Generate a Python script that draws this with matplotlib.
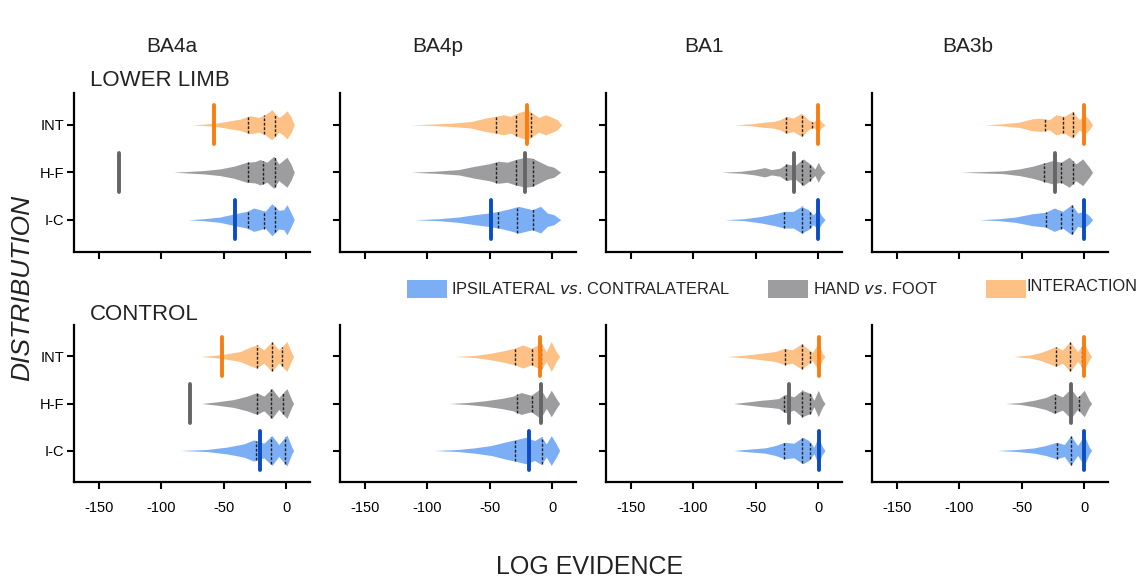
import matplotlib
matplotlib.use("Agg")
import matplotlib.pyplot as plt
import numpy as np
from matplotlib.patches import Rectangle

plt.rcParams['font.family'] = ['Liberation Sans', 'DejaVu Sans']

# ---------------- data ----------------
regions = ["BA4a", "BA4p", "BA1", "BA3b"]
conditions = ["LL", "CT"]
condition_labels = ["LOWER LIMB", "CONTROL"]
series_keys = ["IC", "HF", "INT"]
series_ticklabels = ["I-C", "H-F", "INT"]
x_ticks = [-150, -100, -50, 0]
legend_labels = ["IPSILATERAL $\\it{vs}$. CONTRALATERAL", "HAND $\\it{vs}$. FOOT", "INTERACTION"]

# violin profiles: x = log evidence, d = relative density (142 = one category step)
# ---- LOWER LIMB ----
LL_BA4a_INT_x = [-75.8, -66, -56, -45, -37, -29, -22, -17, -11.5, -6, -2.7, 0.5, 3.7, 6.4]
LL_BA4a_INT_d = [0, 2, 5, 12, 17, 27, 22, 30, 45, 22, 30, 42, 25, 0]
LL_BA4a_INT_q = [-30.3, -17.7, -8.8]
LL_BA4a_HF_x = [-90.5, -80, -66, -53, -42, -31.6, -25, -21, -15.5, -10, -6, -2.7, 0.5, 3.7, 6.4]
LL_BA4a_HF_d = [0, 2, 5, 10, 18, 30, 32, 38, 30, 48, 25, 35, 45, 25, 0]
LL_BA4a_HF_q = [-30.8, -18.8, -9.4]
LL_BA4a_IC_x = [-78.5, -66, -53, -41, -31.6, -26, -21, -17, -11.5, -6, -2, 0.5, 3.7, 6.4]
LL_BA4a_IC_d = [0, 3, 8, 18, 25, 35, 30, 25, 48, 28, 30, 45, 22, 0]
LL_BA4a_IC_q = [-31, -18.2, -8.8]

LL_BA4p_INT_x = [-113, -97, -80.6, -64.5, -53.8, -45.7, -39, -33.6, -28, -20, -16, -10.8, -5.4, 0, 4, 7.5]
LL_BA4p_INT_d = [0, 2, 5, 10, 20, 25, 30, 25, 35, 45, 35, 22, 30, 22, 15, 0]
LL_BA4p_INT_q = [-45.4, -28.8, -16.7]
LL_BA4p_HF_x = [-113, -94, -75, -62, -51, -43, -36, -29.6, -21.5, -16, -9.4, -4, 1.3, 6.7]
LL_BA4p_HF_d = [0, 3, 8, 18, 25, 33, 30, 38, 45, 42, 30, 20, 15, 0]
LL_BA4p_HF_q = [-45, -28.8, -15.3]
LL_BA4p_IC_x = [-110, -91, -75, -62, -51, -43, -35, -27, -21.5, -16, -9.4, -4, 1.3, 6.7]
LL_BA4p_IC_d = [0, 3, 8, 15, 20, 25, 32, 40, 35, 30, 40, 20, 15, 0]
LL_BA4p_IC_q = [-43.5, -28.2, -15.6]

LL_BA1_INT_x = [-67, -53.6, -42.9, -36, -30.8, -25.4, -20, -13.4, -8, -4, 0, 2.7, 5.4]
LL_BA1_INT_d = [0, 3, 8, 10, 15, 25, 20, 35, 15, 8, 22, 8, 0]
LL_BA1_INT_q = [-26, -12.9, -4.8]
LL_BA1_HF_x = [-77.7, -61.6, -51, -42.9, -37.5, -30.8, -25.4, -18.7, -12, -6.7, -2.7, 0, 2.7, 5.4]
LL_BA1_HF_d = [0, 3, 8, 14, 8, 12, 25, 20, 40, 25, 10, 30, 10, 0]
LL_BA1_HF_q = [-26, -12.9, -6.7]
LL_BA1_IC_x = [-75, -59, -45.5, -34.8, -27.3, -20, -13.4, -8, -4, 0, 2.7, 5.4]
LL_BA1_IC_d = [0, 3, 10, 18, 25, 25, 40, 30, 15, 30, 12, 0]
LL_BA1_IC_q = [-27.3, -13.4, -7]

LL_BA3b_INT_x = [-80, -65.5, -52, -41.4, -34.8, -28, -22.7, -16, -9.4, -4, 0, 4, 6.7]
LL_BA3b_INT_d = [0, 3, 8, 18, 20, 15, 30, 25, 40, 15, 30, 15, 0]
LL_BA3b_INT_q = [-31.5, -17.4, -8.8]
LL_BA3b_HF_x = [-99, -81.5, -65.5, -52, -41.4, -32, -25.4, -18.7, -12, -6.7, -1.3, 4, 6.7]
LL_BA3b_HF_d = [0, 2, 4, 10, 18, 28, 35, 30, 45, 25, 40, 15, 0]
LL_BA3b_HF_q = [-32, -18.4, -9]
LL_BA3b_IC_x = [-84, -68, -55, -41.4, -31.3, -24, -17.4, -10, -5.3, -0.5, 4, 6.7]
LL_BA3b_IC_d = [0, 3, 8, 18, 22, 35, 25, 45, 20, 25, 12, 0]
LL_BA3b_IC_q = [-31, -18.4, -9.6]

# ---- CONTROL ----
CT_BA4a_INT_x = [-69, -58, -48, -37, -29, -23.6, -18, -11.5, -6, 0.5, 4.5, 5.9]
CT_BA4a_INT_d = [0, 3, 8, 15, 28, 35, 20, 45, 20, 45, 10, 0]
CT_BA4a_INT_q = [-23.6, -11.5, -3.5]
CT_BA4a_HF_x = [-67.8, -55.7, -42, -31.6, -23.6, -18, -11.5, -6, 0.5, 4.5, 5.9]
CT_BA4a_HF_d = [0, 5, 12, 22, 33, 22, 45, 18, 45, 10, 0]
CT_BA4a_HF_q = [-23.6, -12, -2.7]
CT_BA4a_IC_x = [-85, -64, -48, -34, -26, -18, -11.5, -6, 0.5, 4.5, 5.9]
CT_BA4a_IC_d = [0, 3, 10, 20, 32, 22, 45, 18, 47, 10, 0]
CT_BA4a_IC_q = [-24, -12.3, -0.8]

CT_BA4p_INT_x = [-78.5, -62.4, -49, -38.3, -30.3, -23.6, -16.9, -8.8, -4.8, -0.8, 3.2, 5.9]
CT_BA4p_INT_d = [0, 3, 10, 18, 25, 35, 25, 40, 15, 45, 15, 0]
CT_BA4p_INT_q = [-30, -16, -9.4]
CT_BA4p_HF_x = [-82.5, -67.8, -54.4, -41, -31.6, -25, -16.9, -9.4, -4.8, -0.8, 3.2, 5.9]
CT_BA4p_HF_d = [0, 3, 8, 15, 22, 33, 25, 45, 15, 40, 15, 0]
CT_BA4p_HF_q = [-28.4, -16.6, -9.4]
CT_BA4p_IC_x = [-94.6, -75.8, -62.4, -49, -38.3, -29, -21, -14.2, -8.8, -4.8, -0.8, 3.2, 5.9]
CT_BA4p_IC_d = [0, 3, 8, 15, 25, 33, 40, 30, 42, 20, 45, 20, 0]
CT_BA4p_IC_q = [-30, -19, -8.6]

CT_BA1_INT_x = [-73, -58.6, -45, -34.4, -27, -21, -13.4, -8.9, -4.8, 0, 3.2, 5.4]
CT_BA1_INT_d = [0, 4, 10, 15, 25, 20, 38, 25, 12, 40, 10, 0]
CT_BA1_INT_q = [-27, -13.4, -7]
CT_BA1_HF_x = [-68, -56, -45, -38.4, -31.7, -26.3, -19.6, -13, -6.2, -3.5, 0, 3.2, 5.4]
CT_BA1_HF_d = [0, 5, 10, 12, 15, 28, 20, 40, 30, 10, 40, 12, 0]
CT_BA1_HF_q = [-27.4, -13, -7]
CT_BA1_IC_x = [-68, -56, -42.5, -34.4, -27, -19.6, -12.4, -7.5, -3.5, 0, 3.2, 5.4]
CT_BA1_IC_d = [0, 4, 8, 15, 25, 22, 40, 30, 10, 40, 12, 0]
CT_BA1_IC_q = [-27.4, -13.4, -6.5]

CT_BA3b_INT_x = [-56.5, -43, -35, -28, -22.8, -17.5, -11.3, -5.4, 0, 4, 5.9]
CT_BA3b_INT_d = [0, 5, 12, 22, 30, 20, 45, 15, 40, 10, 0]
CT_BA3b_INT_q = [-22.6, -11.3, -1.9]
CT_BA3b_HF_x = [-63, -51, -40, -31, -24, -17.5, -10.8, -5.4, 0, 4, 5.9]
CT_BA3b_HF_d = [0, 3, 10, 18, 30, 20, 45, 18, 40, 10, 0]
CT_BA3b_HF_q = [-23.6, -10.5, -4]
CT_BA3b_IC_x = [-70, -53.8, -40, -31, -22, -16, -10.8, -5.4, 0, 4, 5.9]
CT_BA3b_IC_d = [0, 3, 8, 15, 25, 18, 45, 15, 45, 10, 0]
CT_BA3b_IC_q = [-22, -11, 0]

# observed log evidence (thick markers), per region BA4a, BA4p, BA1, BA3b
LL_marker_INT = [-58, -20.2, 0, -0.5]
LL_marker_HF = [-134.2, -22, -19.6, -23.3]
LL_marker_IC = [-41, -49, 0, -0.5]
CT_marker_INT = [-51.2, -9.6, 0.5, 0]
CT_marker_HF = [-77.4, -9.4, -23.7, -10.5]
CT_marker_IC = [-20.9, -18.8, 0.5, 0]

# ---------------- style ----------------
fill_colors = {"IC": "#7caef6", "HF": "#9d9d9f", "INT": "#fdc085"}
marker_colors = {"IC": "#0b4cc4", "HF": "#656565", "INT": "#f97d10"}
DENS_SCALE = 1 / 142.0

W, H = 1143, 579
fig = plt.figure(figsize=(W / 100, H / 100), dpi=100)

ax_left_px = [74, 340, 606, 872]
ax_w_px = 236
row_top_px = [93, 325]
row_h_px = [158.5, 157]

G = globals()
for r, cond in enumerate(conditions):
    for c, reg in enumerate(regions):
        left = ax_left_px[c] / W
        bottom = 1 - (row_top_px[r] + row_h_px[r]) / H
        ax = fig.add_axes([left, bottom, ax_w_px / W, row_h_px[r] / H])
        for yi, key in enumerate(series_keys):
            xs = np.array(G[f"{cond}_{reg}_{key}_x"], dtype=float)
            ds = np.array(G[f"{cond}_{reg}_{key}_d"], dtype=float) * DENS_SCALE
            qs = G[f"{cond}_{reg}_{key}_q"]
            ax.fill_between(xs, yi - ds, yi + ds, color=fill_colors[key], lw=0, zorder=2)
            for q in qs:
                hw = np.interp(q, xs, ds)
                ax.plot([q, q], [yi - hw, yi + hw], color="#222222", lw=1.0,
                        ls=(0, (2.0, 1.2)), zorder=3)
            m = G[f"{cond}_marker_{key}"][c]
            ax.plot([m, m], [yi - 0.41, yi + 0.41], color=marker_colors[key], lw=2.8,
                    solid_capstyle="round", zorder=4)
        ax.set_xlim(-170, 19)
        ax.set_ylim(-0.67, 2.67)
        ax.set_xticks(x_ticks)
        ax.set_yticks(range(len(series_keys)))
        for s in ["top", "right"]:
            ax.spines[s].set_visible(False)
        for s in ["left", "bottom"]:
            ax.spines[s].set_linewidth(1.6)
            ax.spines[s].set_color("black")
        ax.tick_params(axis="both", direction="out", length=5, width=1.5, color="black")
        ax.tick_params(axis="x", labelsize=10.5, pad=9)
        ax.tick_params(axis="y", labelsize=10.5, pad=2)
        if r == 0:
            ax.set_xticklabels([])
        else:
            ax.set_xticklabels([str(t) for t in x_ticks])
        if c == 0:
            ax.set_yticklabels(series_ticklabels)
        else:
            ax.set_yticklabels([])

# column titles
title_x_px = [172, 438, 704, 968]
for reg, xp in zip(regions, title_x_px):
    fig.text(xp / W, 1 - 46 / H, reg, ha="center", va="center", fontsize=15, color="#222222")

# row labels
fig.text(90 / W, 1 - 80 / H, condition_labels[0], ha="left", va="center", fontsize=16, color="#222222")
fig.text(90 / W, 1 - 314 / H, condition_labels[1], ha="left", va="center", fontsize=16, color="#222222")

# axis labels
fig.text(590 / W, 1 - 567 / H, "LOG EVIDENCE", ha="center", va="center", fontsize=18, color="#222222")
fig.text(22 / W, 1 - 288 / H, "DISTRIBUTION", ha="center", va="center", fontsize=19,
         rotation=90, style="italic", color="#222222")

# legend
legend_keys = ["IC", "HF", "INT"]
patch_x_px = [407, 768, 986]
text_x_px = [451, 813, 1027]
text_y_px = [289, 289, 286]
for key, lab, px, tx, ty in zip(legend_keys, legend_labels, patch_x_px, text_x_px, text_y_px):
    fig.patches.append(Rectangle((px / W, 1 - 298 / H), 40 / W, 18 / H,
                                 transform=fig.transFigure, facecolor=fill_colors[key],
                                 edgecolor="none"))
    fig.text(tx / W, 1 - ty / H, lab, ha="left", va="center", fontsize=11.8,
             color="#222222")

fig.savefig("out.png", dpi=100)
